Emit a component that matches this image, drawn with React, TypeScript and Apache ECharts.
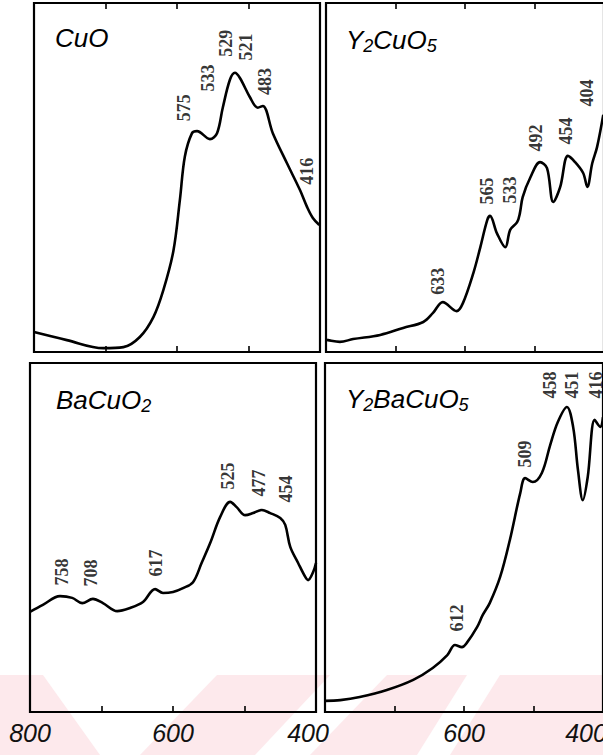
import React, { useEffect, useRef } from "react";
import * as echarts from "echarts";

// ---- data (wavelength in nm, absorbance in arbitrary units 0..100) ----
const cuoWl = [800, 754, 703, 675, 652, 633, 619, 605, 596, 589, 579, 572, 554, 544, 536, 526, 519, 512, 498, 487, 480, 466, 446, 428, 418, 410, 401];
const cuoAbs = [5.7, 3.4, 1.1, 1.4, 4.3, 10, 17.8, 29, 43.5, 56, 62.7, 63.3, 61, 62.7, 70, 78, 80, 78.5, 73, 70, 70.5, 62.7, 54, 46.4, 41.5, 38.4, 36.4];

const y2cuo5Wl = [800, 797, 780, 761, 722, 689, 660, 646, 632, 612, 603, 588, 578, 568, 564, 554, 542, 535, 525, 521, 517, 506, 492, 482, 473, 463, 452, 442, 430, 424, 417, 410, 401];
const y2cuo5Abs = [3.6, 3.4, 2.9, 3.7, 4.9, 6.9, 8.6, 11.2, 14.3, 11.7, 14, 22.6, 30, 37.8, 39, 34, 30, 35, 37.2, 39.8, 44.4, 50, 54.4, 52.7, 43, 47.3, 56.2, 54.5, 51.3, 47.3, 54, 58.7, 68];

const bacuo2Wl = [800, 782, 758, 741, 727, 712, 698, 678, 660, 642, 625, 614, 600, 586, 572, 560, 548, 534, 520, 511, 499, 488, 476, 464, 450, 443, 436, 425, 415, 411, 404, 400];
const bacuo2Abs = [28.7, 30.7, 33.2, 32.7, 31.2, 32.4, 31.2, 28.9, 29.8, 31.5, 35.2, 34.1, 34.4, 35.5, 37.2, 42.7, 48.4, 55.9, 60.2, 58.7, 56.4, 57, 57.9, 57, 55.6, 53.6, 47.3, 42.7, 38.7, 37.8, 40.1, 42.7];

const y2bacuo5Wl = [800, 778, 750, 711, 673, 645, 624, 613, 603, 596, 581, 573, 563, 548, 534, 519, 512, 501, 488, 476, 465, 452, 443, 436, 429, 422, 412, 404, 400];
const y2bacuo5Abs = [3.2, 3.4, 4.3, 6.3, 9.2, 12.6, 16.3, 19.2, 18.6, 19.8, 24.4, 27.8, 31.2, 38.7, 49.3, 62.8, 67, 65.9, 68.5, 76.5, 83.1, 87.4, 81.7, 69.3, 60.7, 67.3, 83.7, 81.7, 84.5];

// peak annotations: label text, wavelength and height where the label sits
const cuoPeaks = ["575", "533", "529", "521", "483", "416"];
const cuoPeakWl = [590, 557, 531, 503, 477, 418];
const cuoPeakAt = [70, 78.5, 88.5, 87.4, 77.5, 51.8];

const y2cuo5Peaks = ["633", "565", "533", "492", "454", "404"];
const y2cuo5PeakWl = [639, 568, 535, 498, 455, 424];
const y2cuo5PeakAt = [20.3, 46.1, 46.4, 61.3, 63.3, 74.2];

const bacuo2Peaks = ["758", "708", "617", "525", "477", "454"];
const bacuo2PeakWl = [755, 715, 624, 523, 480, 442];
const bacuo2PeakAt = [40.1, 39.8, 42.7, 67.6, 65.6, 63.9];

const y2bacuo5Peaks = ["612", "509", "458", "451", "416"];
const y2bacuo5PeakWl = [610, 512, 476, 445, 410];
const y2bacuo5PeakAt = [26.9, 73.9, 93.7, 93.7, 93.7];

const panelTitles = ["CuO", "Y{s|2}CuO{s|5}", "BaCuO{s|2}", "Y{s|2}BaCuO{s|5}"];
const tickLabelsLeft = [800, 600, 400];
const tickLabelsRight = [600, 400];

const zip = (a: number[], b: number[]) => a.map((v, i) => [v, b[i]]);
const peaks = (names: string[], wl: number[], at: number[]) =>
  names.map((n, i) => ({ name: n, value: [wl[i], at[i]] }));

export default function App() {
  const ref = useRef<HTMLDivElement>(null);
  useEffect(() => {
    if (!ref.current) return;
    const chart = echarts.init(ref.current, undefined, { renderer: "svg" });

    const grids = [
      { left: 34, top: 3, width: 286, height: 349 },
      { left: 326, top: 3, width: 278, height: 349 },
      { left: 30, top: 363, width: 286, height: 349 },
      { left: 325, top: 363, width: 278, height: 349 },
    ].map((g) => ({
      ...g,
      show: true,
      borderColor: "#000",
      borderWidth: 2.2,
      backgroundColor: "transparent",
      containLabel: false,
    }));

    const labelFont = {
      fontFamily: "Liberation Sans, Arial, sans-serif",
      fontStyle: "italic" as const,
      fontSize: 25,
      color: "#111",
    };

    const baseX = (gridIndex: number, position: "bottom" | "top", labels: number[] | null, shift: number) => ({
      type: "value" as const,
      gridIndex,
      position,
      min: 400,
      max: 800,
      interval: 100,
      inverse: true,
      axisLine: { show: false },
      splitLine: { show: false },
      axisTick: { show: true, inside: true, length: 6, lineStyle: { color: "#000", width: 1.6 } },
      axisLabel: labels
        ? {
            show: true,
            margin: 8,
            ...labelFont,
            formatter: (v: number) =>
              labels.includes(v) ? (v === 400 ? `{r|${v}}` : `{n|${v}}`) : "",
            rich: {
              n: { ...labelFont },
              r: { ...labelFont, padding: [0, shift, 0, 0] },
            },
          }
        : { show: false },
    });

    const xAxes = [
      baseX(0, "bottom", null, 0),
      baseX(1, "bottom", null, 0),
      baseX(2, "bottom", tickLabelsLeft, 16),
      baseX(3, "bottom", tickLabelsRight, 34),
      baseX(0, "top", null, 0),
      baseX(1, "top", null, 0),
    ];

    const yAxes = [0, 1, 2, 3].map((i) => ({
      type: "value" as const,
      gridIndex: i,
      min: 0,
      max: 100,
      show: false,
      splitLine: { show: false },
    }));

    const curves = [
      zip(cuoWl, cuoAbs),
      zip(y2cuo5Wl, y2cuo5Abs),
      zip(bacuo2Wl, bacuo2Abs),
      zip(y2bacuo5Wl, y2bacuo5Abs),
    ];
    const marks = [
      peaks(cuoPeaks, cuoPeakWl, cuoPeakAt),
      peaks(y2cuo5Peaks, y2cuo5PeakWl, y2cuo5PeakAt),
      peaks(bacuo2Peaks, bacuo2PeakWl, bacuo2PeakAt),
      peaks(y2bacuo5Peaks, y2bacuo5PeakWl, y2bacuo5PeakAt),
    ];

    const series: any[] = [];
    curves.forEach((data, i) => {
      series.push({
        type: "line",
        xAxisIndex: i,
        yAxisIndex: i,
        data,
        smooth: 0.35,
        symbol: "none",
        lineStyle: { color: "#000", width: 2.6 },
        silent: true,
        z: 3,
      });
      series.push({
        type: "scatter",
        xAxisIndex: i,
        yAxisIndex: i,
        data: marks[i],
        symbolSize: 1,
        itemStyle: { color: "rgba(0,0,0,0)" },
        silent: true,
        z: 4,
        label: {
          show: true,
          position: "inside",
          rotate: 90,
          formatter: "{b}",
          fontFamily: "Liberation Serif, Times New Roman, serif",
          fontWeight: "bold",
          fontSize: 18,
          color: "#000",
        },
      });
    });

    const titlePos = [
      { left: 55, top: 25 },
      { left: 346, top: 25 },
      { left: 56, top: 385 },
      { left: 346, top: 384 },
    ];
    const titleFont = {
      fontFamily: "Liberation Sans, Arial, sans-serif",
      fontStyle: "italic" as const,
      fontWeight: "normal" as const,
      fontSize: 26,
      color: "#000",
    };
    const title = panelTitles.map((t, i) => ({
      text: t,
      ...titlePos[i],
      padding: 0,
      textStyle: {
        ...titleFont,
        rich: {
          s: { ...titleFont, fontSize: 18, padding: [12, 0, 0, 0] },
        },
      },
    }));

    const pink = "#fde9ec";
    const graphic = [
      { type: "rect", z: -10, shape: { x: 0, y: 675, width: 603, height: 80 }, style: { fill: pink } },
      { type: "polygon", z: -9, shape: { points: [[43, 675], [217, 675], [140, 755], [100, 755]] }, style: { fill: "#fff" } },
      { type: "polygon", z: -9, shape: { points: [[330, 675], [387, 675], [310, 755], [255, 755]] }, style: { fill: "#fff" } },
      { type: "polygon", z: -9, shape: { points: [[467, 675], [500, 675], [450, 755], [417, 755]] }, style: { fill: "#fff" } },
    ];

    chart.setOption({
      animation: false,
      backgroundColor: "#fff",
      title,
      grid: grids,
      xAxis: xAxes,
      yAxis: yAxes,
      series,
      graphic,
    });
    return () => chart.dispose();
  }, []);

  return (
    <div style={{ position: "fixed", left: 0, top: 0, width: 603, height: 755, overflow: "hidden", background: "#fff" }}>
      <div ref={ref} style={{ width: 612, height: 755 }} />
    </div>
  );
}
